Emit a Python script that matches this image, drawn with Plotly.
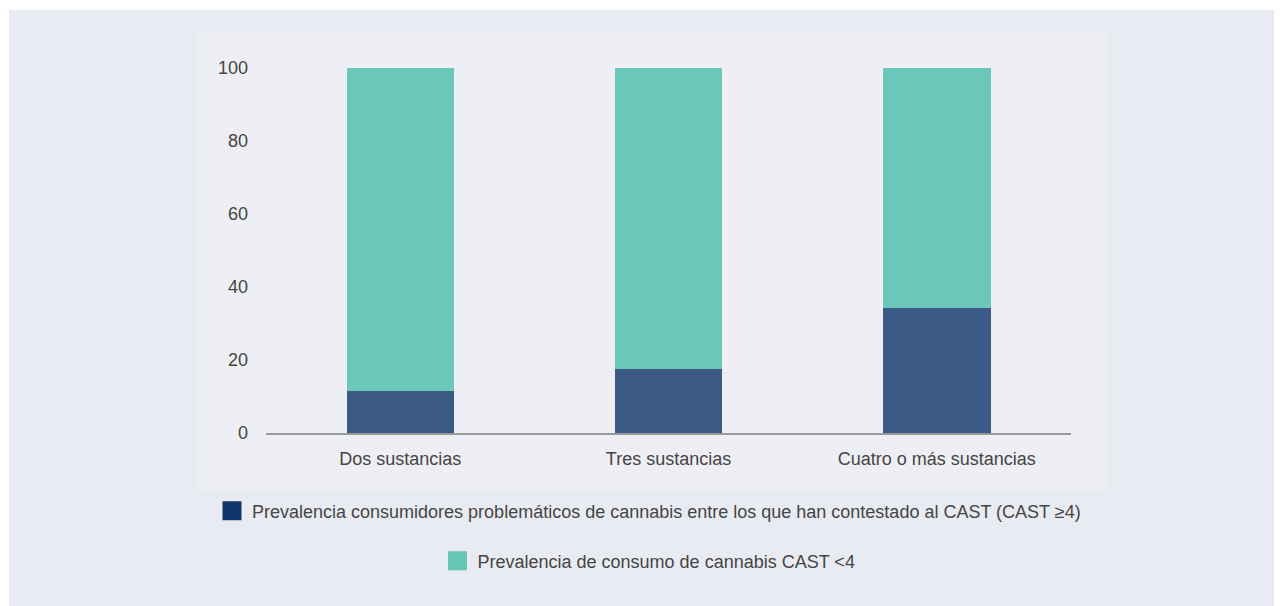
import plotly.graph_objects as go

categories = ["Dos sustancias", "Tres sustancias", "Cuatro o más sustancias"]
problematic = [11.5, 17.4, 34.2]
non_problematic = [88.5, 82.6, 65.8]
series_names = [
    "Prevalencia consumidores problemáticos de cannabis entre los que han contestado al CAST (CAST ≥4)",
    "Prevalencia de consumo de cannabis CAST <4",
]
y_ticks = [0, 20, 40, 60, 80, 100]

BAR_DARK = "#3b5a85"
BAR_TEAL = "#6bc7b9"
LEG_DARK = "#10356a"
LEG_TEAL = "#66c5b5"
FONT = "Liberation Sans, Arial, Helvetica, sans-serif"
TXT = "#454545"

fig = go.Figure()
fig.add_trace(go.Bar(x=categories, y=problematic, marker=dict(color=BAR_DARK, line=dict(width=0)),
                     width=0.4, showlegend=False, hoverinfo="y"))
fig.add_trace(go.Bar(x=categories, y=non_problematic, marker=dict(color=BAR_TEAL, line=dict(width=0)),
                     width=0.4, showlegend=False, hoverinfo="y"))
# legend-only entries (points placed outside the visible range)
fig.add_trace(go.Scatter(x=categories[:1], y=[-500], mode="markers", name=series_names[0],
                         marker=dict(symbol="square", size=16, color=LEG_DARK,
                                     line=dict(color=LEG_DARK, width=3)),
                         hoverinfo="skip", legend="legend"))
fig.add_trace(go.Scatter(x=categories[:1], y=[-500], mode="markers", name=series_names[1],
                         marker=dict(symbol="square", size=16, color=LEG_TEAL,
                                     line=dict(color=LEG_TEAL, width=3)),
                         hoverinfo="skip", legend="legend2"))

W, H = 1282, 606
OFF = 8  # page offset of the figure
L, R, T, B = 266 - OFF, 1071 - OFF, 68 - OFF, 433 - OFF

def px(xp):
    return (xp - OFF - L) / (R - L)

def py(yp):
    return (B - (yp - OFF)) / (B - T)

fig.update_layout(
    width=W, height=H,
    margin=dict(l=L, r=W - R, t=T, b=H - B, pad=0, autoexpand=False),
    paper_bgcolor="white",
    plot_bgcolor="rgba(0,0,0,0)",
    barmode="stack",
    font=dict(family=FONT, size=18, color=TXT),
    shapes=[
        dict(type="rect", xref="paper", yref="paper", x0=px(9), x1=px(1300), y0=py(10), y1=py(620),
             fillcolor="#e9ebf3", line=dict(width=0), layer="below"),
        dict(type="rect", xref="paper", yref="paper", x0=px(197), x1=px(1107), y0=py(32), y1=py(490),
             fillcolor="#eeeff4", line=dict(width=0), layer="below"),
    ],
    xaxis=dict(
        type="category", range=[-0.5, 2.5], showgrid=False, zeroline=False,
        showline=True, linecolor="#999999", linewidth=2,
        ticks="", ticklabelstandoff=8,
        tickfont=dict(family=FONT, size=18, color=TXT),
        fixedrange=True,
    ),
    yaxis=dict(
        range=[0, 100], tickvals=y_ticks, showgrid=False, zeroline=False, showline=False,
        ticks="", ticklabelstandoff=17,
        tickfont=dict(family=FONT, size=18, color=TXT),
        fixedrange=True,
    ),
    legend=dict(xref="container", yref="container", x=(649 - OFF) / W, xanchor="center",
                y=1 - (511 - OFF) / H, yanchor="middle", bgcolor="rgba(0,0,0,0)",
                font=dict(family=FONT, size=18, color=TXT)),
    legend2=dict(xref="container", yref="container", x=(649 - OFF) / W, xanchor="center",
                 y=1 - (561 - OFF) / H, yanchor="middle", bgcolor="rgba(0,0,0,0)",
                 font=dict(family=FONT, size=18, color=TXT)),
)

fig.write_html("out.html")
